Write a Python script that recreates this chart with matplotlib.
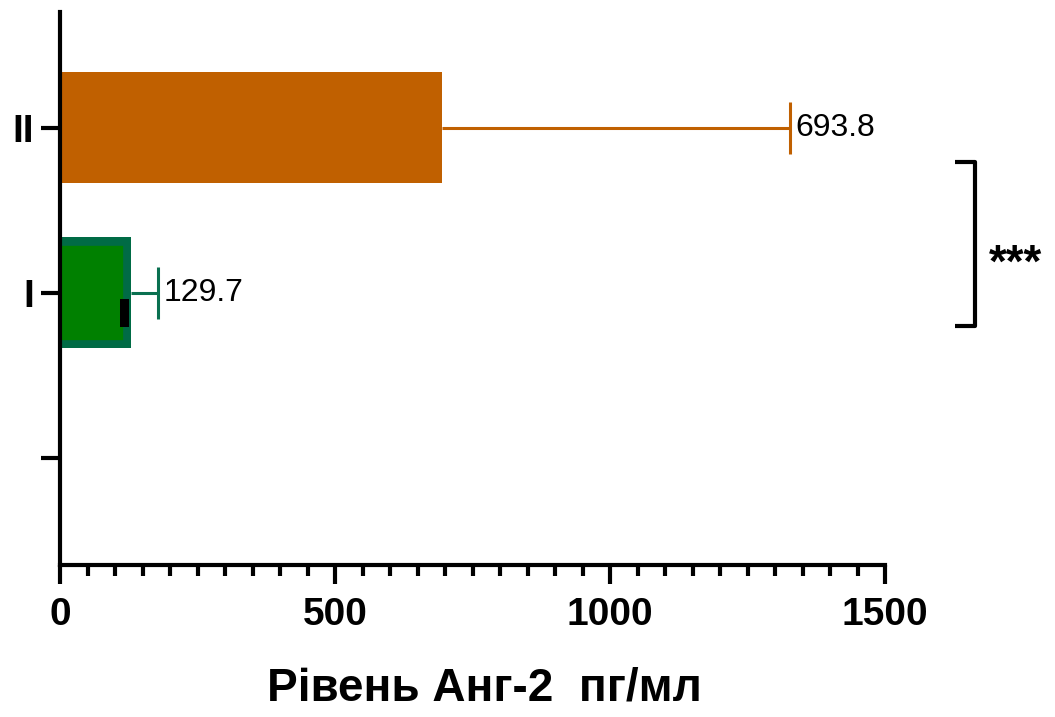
import matplotlib.pyplot as plt
from matplotlib.transforms import TransformedPatchPath
import numpy as np

plt.rcParams['font.family'] = ['Liberation Sans', 'DejaVu Sans']

# data
groups = ['', 'I', 'II']
means = [np.nan, 129.7, 693.8]
sds = [0, 48, 633]
value_labels = ['', '129.7', '693.8']
mark_left, mark_width = 109, 16   # small black mark inside group I bar

fill_colors = ['none', '#008000', '#C06000']
edge_colors = ['none', '#006B45', '#C06000']
err_colors = ['none', '#0A7050', '#C06000']

fig = plt.figure(figsize=(10.55, 7.17), dpi=100)
ax = fig.add_axes([0.0569, 0.212, 0.782, 0.771])

y = np.arange(len(groups))
hide = 40  # start bars a bit left of 0 so the left border is cut off by the axes
for i in range(1, len(groups)):
    lw = 12 if i == 1 else 0
    bars = ax.barh(y[i], means[i] + hide, height=0.67, left=-hide,
                   color=fill_colors[i], edgecolor=edge_colors[i], linewidth=lw, zorder=2)
    # border drawn inside the bar (clip to own outline, keep axes clip box)
    for p in bars:
        p.set_clip_path(TransformedPatchPath(p))
    eb = ax.errorbar(means[i], y[i], xerr=[[0], [sds[i]]], fmt='none',
                     ecolor=err_colors[i], elinewidth=2.2, capsize=19, capthick=2.2, zorder=1)
    eb[1][0].set_visible(False)
    ax.text(means[i] + sds[i] + 10, y[i], value_labels[i], fontsize=23,
            ha='left', va='center')

ax.barh(y[1] - 0.125, mark_width, height=0.17, left=mark_left, color='black', zorder=3)

# significance bracket
bx, arm = 1664, 36
ax.plot([bx - arm, bx, bx, bx - arm], [1.79, 1.79, 0.80, 0.80], color='black',
        lw=3, clip_on=False, solid_capstyle='butt')
ax.text(bx + 24, 1.17, '***', fontsize=33, fontweight='bold', ha='left', va='center')

ax.set_xlim(0, 1500)
ax.set_ylim(-0.65, 2.70)
ax.set_xticks([0, 500, 1000, 1500])
ax.set_xticks(np.arange(0, 1501, 50), minor=True)
ax.set_yticks(y)
ax.set_yticklabels(groups)

for s in ['top', 'right']:
    ax.spines[s].set_visible(False)
for s in ['left', 'bottom']:
    ax.spines[s].set_linewidth(3)
    ax.spines[s].set_zorder(4)

ax.tick_params(axis='x', which='major', length=14, width=3, pad=9, labelsize=28)
ax.tick_params(axis='x', which='minor', length=8, width=3)
ax.tick_params(axis='y', which='major', length=14, width=3, pad=5, labelsize=28)
for lab in ax.get_xticklabels() + ax.get_yticklabels():
    lab.set_fontweight('bold')

ax.set_xlabel('Рівень Анг-2  пг/мл', fontsize=33, fontweight='bold', labelpad=24, x=0.515)

fig.savefig('out.png', dpi=100)
